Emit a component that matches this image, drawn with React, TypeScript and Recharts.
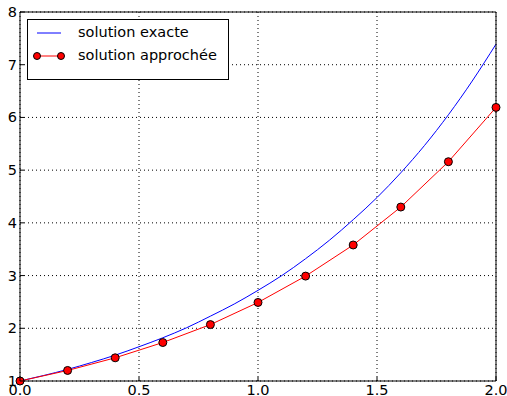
import { CartesianGrid, Line, LineChart, XAxis, YAxis } from 'recharts';

// x positions
const exactX = [0, 0.1, 0.2, 0.3, 0.4, 0.5, 0.6, 0.7, 0.8, 0.9, 1.0, 1.1, 1.2, 1.3, 1.4, 1.5, 1.6, 1.7, 1.8, 1.9, 2.0];
const exactY = [1.0, 1.105, 1.22, 1.35, 1.49, 1.65, 1.82, 2.01, 2.23, 2.46, 2.72, 3.0, 3.32, 3.67, 4.06, 4.48, 4.95, 5.47, 6.05, 6.69, 7.39];

const approxX = [0, 0.2, 0.4, 0.6, 0.8, 1.0, 1.2, 1.4, 1.6, 1.8, 2.0];
const approxY = [1.0, 1.2, 1.44, 1.73, 2.07, 2.49, 2.99, 3.58, 4.3, 5.16, 6.19];

const xTicks = [0, 0.5, 1.0, 1.5, 2.0];
const yTicks = [1, 2, 3, 4, 5, 6, 7, 8];

const exactData = exactX.map((x, i) => ({ x, y: exactY[i] }));
const approxData = approxX.map((x, i) => ({ x, y: approxY[i] }));

const FONT = '"DejaVu Sans", sans-serif';
const FS = 14.5;
const TICK_LEN = 4;

/* eslint-disable @typescript-eslint/no-explicit-any */
function LeftTick({ x, y, payload }: any) {
  return (
    <g>
      <line x1={x + 3} x2={x + 3 + TICK_LEN} y1={y} y2={y} stroke="#000" strokeWidth={1} />
      <text x={x} y={y} dy={5} textAnchor="end" fontSize={FS} fontFamily={FONT} fill="#000">
        {payload.value}
      </text>
    </g>
  );
}

function RightTick({ x, y }: any) {
  return <line x1={x - 3} x2={x - 3 - TICK_LEN} y1={y} y2={y} stroke="#000" strokeWidth={1} />;
}

function BottomTick({ x, y, payload }: any) {
  return (
    <g>
      <line x1={x} x2={x} y1={y - 3} y2={y - 3 - TICK_LEN} stroke="#000" strokeWidth={1} />
      <text x={x} y={y} dy={11} textAnchor="middle" fontSize={FS} fontFamily={FONT} fill="#000">
        {Number(payload.value).toFixed(1)}
      </text>
    </g>
  );
}

function TopTick({ x, y }: any) {
  return <line x1={x} x2={x} y1={y + 3} y2={y + 3 + TICK_LEN} stroke="#000" strokeWidth={1} />;
}

function LegendBox() {
  return (
    <div
      style={{
        position: 'absolute',
        left: 27,
        top: 19,
        border: '1px solid #000',
        background: '#fff',
        width: 202,
        height: 61,
        fontFamily: FONT,
        fontSize: FS,
        lineHeight: 1,
        boxSizing: 'border-box',
      }}>
      <svg width={40} height={58} style={{ position: 'absolute', left: 0, top: 0 }}>
        <line x1={9} x2={33} y1={13} y2={13} stroke="blue" strokeWidth={1} />
        <line x1={9} x2={33} y1={36} y2={36} stroke="red" strokeWidth={1} />
        <circle cx={9} cy={36} r={3.5} fill="red" stroke="#000" strokeWidth={1} />
        <circle cx={33} cy={36} r={3.5} fill="red" stroke="#000" strokeWidth={1} />
      </svg>
      <div style={{ position: 'absolute', left: 50, top: 5 }}>solution exacte</div>
      <div style={{ position: 'absolute', left: 50, top: 28 }}>solution approchée</div>
    </div>
  );
}

export default function App() {
  return (
    <div style={{ position: 'absolute', left: 0, top: 0, width: 507, height: 396, background: '#fff' }}>
      <LineChart width={507} height={396} margin={{ top: 11, right: 10, bottom: 0, left: 0 }}>
        <CartesianGrid
          xAxisId="b"
          yAxisId="l"
          stroke="#000"
          strokeDasharray="1 3"
          strokeWidth={1}
          horizontalValues={yTicks}
          verticalValues={xTicks}
        />
        <XAxis
          xAxisId="b"
          dataKey="x"
          type="number"
          domain={[0, 2]}
          ticks={xTicks}
          height={15}
          tickSize={0}
          tickMargin={3}
          axisLine={{ stroke: '#000' }}
          tick={<BottomTick />}
        />
        <XAxis
          xAxisId="t"
          orientation="top"
          dataKey="x"
          type="number"
          domain={[0, 2]}
          ticks={xTicks}
          height={1}
          tickSize={0}
          tickMargin={3}
          axisLine={{ stroke: '#000' }}
          tick={<TopTick />}
        />
        <YAxis
          yAxisId="l"
          type="number"
          domain={[1, 8]}
          ticks={yTicks}
          width={20}
          tickSize={0}
          tickMargin={3}
          axisLine={{ stroke: '#000' }}
          tick={<LeftTick />}
        />
        <YAxis
          yAxisId="r"
          orientation="right"
          type="number"
          domain={[1, 8]}
          ticks={yTicks}
          width={1}
          tickSize={0}
          tickMargin={3}
          axisLine={{ stroke: '#000' }}
          tick={<RightTick />}
        />
        <Line
          xAxisId="b"
          yAxisId="l"
          data={exactData}
          dataKey="y"
          type="monotone"
          stroke="blue"
          strokeWidth={1}
          dot={false}
          isAnimationActive={false}
        />
        <Line
          xAxisId="b"
          yAxisId="l"
          data={approxData}
          dataKey="y"
          type="linear"
          stroke="red"
          strokeWidth={1}
          dot={{ r: 4, fill: 'red', stroke: '#000', strokeWidth: 1 }}
          isAnimationActive={false}
        />
      </LineChart>
      <LegendBox />
    </div>
  );
}
